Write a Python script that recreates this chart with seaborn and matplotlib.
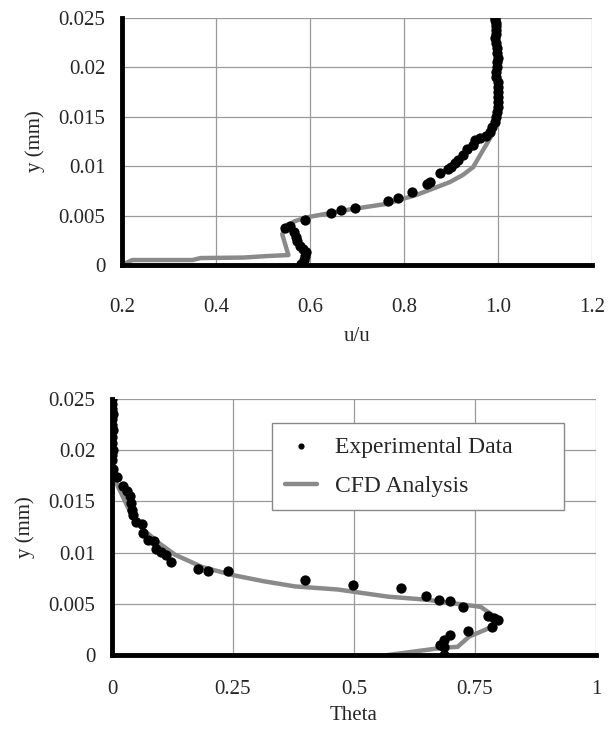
from matplotlib import pyplot as plt
import numpy as np
import pandas as pd
import seaborn as sns

##Velocity profile (top chart)##
u_exp = [0.994, 0.994, 0.995, 0.995, 0.995, 0.995, 0.994, 0.996, 0.998, 0.998,
         0.999, 0.998, 0.997, 0.996, 0.996, 1.000, 1.001, 1.001, 1.001, 1.000,
         0.999, 0.998, 0.996, 0.993, 0.988, 0.983, 0.975, 0.962, 0.952, 0.947,
         0.935, 0.926, 0.915, 0.908, 0.901, 0.893, 0.877, 0.855, 0.848, 0.816,
         0.787, 0.765, 0.695, 0.666, 0.645, 0.589, 0.558, 0.547, 0.565, 0.570,
         0.573, 0.578, 0.585, 0.591, 0.590, 0.588, 0.580]
y_exp_u = [0.0250, 0.0248, 0.0245, 0.0242, 0.0238, 0.0234, 0.0230, 0.0225, 0.0220, 0.0215,
           0.0210, 0.0205, 0.0200, 0.0195, 0.0190, 0.0185, 0.0180, 0.0175, 0.0170, 0.0165,
           0.0160, 0.0155, 0.0150, 0.0145, 0.0140, 0.0135, 0.0131, 0.0129, 0.0127, 0.0121,
           0.0117, 0.0111, 0.0106, 0.0103, 0.0099, 0.0097, 0.0093, 0.0084, 0.0082, 0.0074,
           0.0068, 0.0065, 0.0058, 0.0056, 0.0053, 0.0046, 0.0039, 0.0037, 0.0033, 0.0028,
           0.0024, 0.0019, 0.0016, 0.0013, 0.0009, 0.0005, 0.0001]

u_cfd = [0.200, 0.222, 0.350, 0.367, 0.458, 0.508, 0.554, 0.541, 0.546, 0.566,
         0.591, 0.682, 0.765, 0.791, 0.827, 0.860, 0.898, 0.925, 0.947, 0.963,
         0.979, 0.989, 0.997, 1.000, 0.998, 0.994]
y_cfd_u = [0.0000, 0.0005, 0.0005, 0.0007, 0.00075, 0.0009, 0.0010, 0.0031, 0.0037, 0.0044,
           0.0048, 0.0056, 0.0062, 0.0066, 0.0071, 0.0077, 0.0084, 0.0091, 0.0099, 0.0112,
           0.0125, 0.0133, 0.0150, 0.0184, 0.0220, 0.0250]

##Temperature profile (bottom chart)##
th_exp = [0.000, 0.001, 0.000, 0.002, 0.001, 0.000, 0.002, 0.001, 0.000, 0.002,
          0.001, 0.000, 0.002, 0.003, 0.010, 0.022, 0.030, 0.038, 0.040, 0.042,
          0.044, 0.050, 0.062, 0.064, 0.074, 0.086, 0.090, 0.102, 0.112, 0.122,
          0.178, 0.199, 0.239, 0.399, 0.498, 0.598, 0.648, 0.676, 0.698, 0.726,
          0.776, 0.790, 0.798, 0.786, 0.736, 0.698, 0.686, 0.678, 0.686, 0.686]
y_exp_th = [0.0250, 0.0245, 0.0240, 0.0235, 0.0230, 0.0225, 0.0220, 0.0213, 0.0207, 0.0200,
            0.0195, 0.0190, 0.0182, 0.0176, 0.0174, 0.0165, 0.0160, 0.0155, 0.0148, 0.0142,
            0.0137, 0.0130, 0.0128, 0.0119, 0.0112, 0.0111, 0.0104, 0.0101, 0.0098, 0.0091,
            0.0084, 0.0082, 0.0082, 0.0073, 0.0068, 0.0065, 0.0058, 0.0054, 0.0053, 0.0047,
            0.0038, 0.0036, 0.0034, 0.0027, 0.0023, 0.0020, 0.0015, 0.0010, 0.0008, 0.0000]

th_cfd = [0.000, 0.000, 0.006, 0.022, 0.042, 0.066, 0.098, 0.130, 0.186, 0.250,
          0.314, 0.378, 0.466, 0.570, 0.650, 0.730, 0.762, 0.786, 0.798, 0.778,
          0.738, 0.714, 0.682, 0.570]
y_cfd_th = [0.0250, 0.0175, 0.0171, 0.0155, 0.0135, 0.0122, 0.0109, 0.0098, 0.0086, 0.0078,
            0.0072, 0.0067, 0.0064, 0.0057, 0.0054, 0.0049, 0.0047, 0.0039, 0.0033, 0.0026,
            0.0018, 0.0008, 0.0007, 0.0000]

y_ticks = [0, 0.005, 0.01, 0.015, 0.02, 0.025]
y_labels = ["0", "0.005", "0.01", "0.015", "0.02", "0.025"]
u_ticks = [0.2, 0.4, 0.6, 0.8, 1.0, 1.2]
u_labels = ["0.2", "0.4", "0.6", "0.8", "1.0", "1.2"]
th_ticks = [0, 0.25, 0.5, 0.75, 1]
th_labels = ["0", "0.25", "0.5", "0.75", "1"]

sns.set_style("whitegrid")
plt.rcParams['font.family'] = ['Liberation Serif', 'DejaVu Serif']
plt.rcParams['font.size'] = 15

fig = plt.figure(figsize=(6.09, 7.34), dpi=100)
ax1 = fig.add_axes([0.2003, 0.639, 0.7718, 0.3365])
ax2 = fig.add_axes([0.1839, 0.1076, 0.7947, 0.3488])


def style_axes(ax, xticks, xlabels, xlab, xpad, lpad):
    ax.set_ylim(0, 0.025)
    ax.set_xticks(xticks)
    ax.set_xticklabels(xlabels, fontsize=15)
    ax.set_yticks(y_ticks)
    ax.set_yticklabels(y_labels, fontsize=15)
    ax.grid(True, color='#9a9a9a', linewidth=0.9)
    for s in ['top', 'right']:
        ax.spines[s].set_visible(False)
    for s in ['left', 'bottom']:
        ax.spines[s].set_color('black')
        ax.spines[s].set_linewidth(3.5)
        ax.spines[s].set_zorder(5)
    ax.tick_params(direction='out', length=4, width=2.5, color='black', pad=8)
    ax.tick_params(axis='x', pad=xpad)
    ax.set_xlabel(xlab, fontsize=15, labelpad=lpad)
    ax.set_ylabel("y (mm)", fontsize=15, labelpad=10)


# top: u/u profile
sns.lineplot(x=u_cfd, y=y_cfd_u, ax=ax1, sort=False, estimator=None,
             color='#8a8a8a', linewidth=3.2)
sns.scatterplot(x=u_exp, y=y_exp_u, ax=ax1, color='black', s=55,
                edgecolor='black', linewidth=0, zorder=3)
ax1.set_xlim(0.2, 1.2)
style_axes(ax1, u_ticks, u_labels, "u/u", 20, 7)

# bottom: Theta profile
sns.lineplot(x=th_cfd, y=y_cfd_th, ax=ax2, sort=False, estimator=None,
             color='#8a8a8a', linewidth=3.2, label='CFD Analysis')
sns.scatterplot(x=th_exp, y=y_exp_th, ax=ax2, color='black', s=55,
                edgecolor='black', linewidth=0, zorder=3, label='Experimental Data')
ax2.set_xlim(0, 1)
style_axes(ax2, th_ticks, th_labels, "Theta", 14, 5)

handles, labels = ax2.get_legend_handles_labels()
leg = ax2.legend(handles[::-1], labels[::-1], loc='upper left',
                 bbox_to_anchor=(0.331, 0.574, 0.603, 0.332), mode='expand',
                 borderaxespad=0, fancybox=False, framealpha=1, edgecolor='#888888',
                 fontsize=17, labelspacing=0.75, borderpad=0.55,
                 handlelength=1.35, handletextpad=0.75, markerscale=0.6)
leg.get_frame().set_linewidth(1.0)

plt.savefig("out.png", dpi=100)
